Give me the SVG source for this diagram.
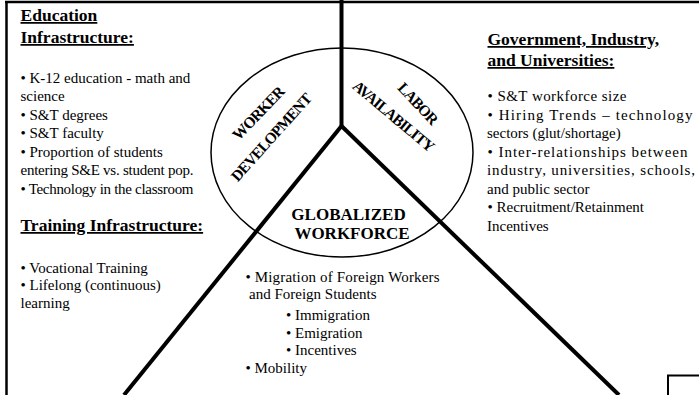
<svg xmlns="http://www.w3.org/2000/svg" width="699" height="395" viewBox="0 0 699 395">
  <style>
    .t { font-family: "Liberation Serif", "Times New Roman", serif; font-size: 15px; fill: #000; }
    .h { font-family: "Liberation Serif", "Times New Roman", serif; font-size: 17.5px; font-weight: bold; fill: #000; text-decoration: underline; }
    .lbl { font-family: "Liberation Serif", "Times New Roman", serif; font-weight: bold; fill: #000; }
    .rot { font-size: 15.5px; letter-spacing: -0.9px; }
    .thick { stroke: #000; stroke-width: 4; fill: none; stroke-linecap: butt; }
    .frame { stroke: #000; stroke-width: 2.5; fill: none; }
  </style>
  <rect width="699" height="395" fill="#fff"/>

  <!-- outer frame -->
  <g id="frame">
    <line class="frame" x1="5" y1="2" x2="699" y2="2"/>
    <line class="frame" x1="6.5" y1="1" x2="6.5" y2="395"/>
    <polyline points="668,395 668,375.5 699,375.5" fill="none" stroke="#000" stroke-width="2"/>
  </g>

  <!-- central ellipse -->
  <g id="core">
    <ellipse cx="342" cy="152.5" rx="131" ry="104.5" fill="none" stroke="#000" stroke-width="1.5"/>
    <text class="lbl" font-size="17" x="348.5" y="220" text-anchor="middle">GLOBALIZED</text>
    <text class="lbl" font-size="17" x="352" y="238.5" text-anchor="middle">WORKFORCE</text>
  </g>

  <!-- dividing lines -->
  <g id="connectors">
    <line class="thick" x1="341.5" y1="0" x2="341.5" y2="127"/>
    <line class="thick" x1="341.5" y1="126" x2="124" y2="395"/>
    <line class="thick" x1="341.5" y1="126" x2="619" y2="395"/>
  </g>

  <g id="worker-development">
    <text class="lbl rot" text-anchor="middle" transform="translate(262,117) rotate(-46)">WORKER</text>
    <text class="lbl rot" text-anchor="middle" transform="translate(275,141) rotate(-48)">DEVELOPMENT</text>
  </g>

  <g id="labor-availability">
    <text class="lbl rot" text-anchor="middle" transform="translate(414,107) rotate(47)">LABOR</text>
    <text class="lbl rot" text-anchor="middle" transform="translate(390,120) rotate(40)">AVAILABILITY</text>
  </g>

  <g id="education">
    <text class="h" x="20.5" y="21">Education</text>
    <text class="h" x="20.5" y="43">Infrastructure:</text>
    <text class="t" x="20.5" y="83">• K-12 education - math and</text>
    <text class="t" x="20.5" y="101">science</text>
    <text class="t" x="20.5" y="119.5">• S&amp;T degrees</text>
    <text class="t" x="20.5" y="138">• S&amp;T faculty</text>
    <text class="t" x="20.5" y="156.5">• Proportion of students</text>
    <text class="t" x="20.5" y="175" textLength="173">entering S&amp;E vs. student pop.</text>
    <text class="t" x="20.5" y="193.5" textLength="173">• Technology in the classroom</text>
  </g>

  <g id="training">
    <text class="h" x="20.5" y="231">Training Infrastructure:</text>
    <text class="t" x="20.5" y="272.5">• Vocational Training</text>
    <text class="t" x="20.5" y="290">• Lifelong (continuous)</text>
    <text class="t" x="20.5" y="307.5">learning</text>
  </g>

  <g id="government">
    <text class="h" x="487.5" y="45">Government, Industry,</text>
    <text class="h" x="487.5" y="66">and Universities:</text>
    <text class="t" x="487.5" y="101" textLength="139">• S&amp;T workforce size</text>
    <text class="t" x="487.5" y="119.5" textLength="205">• Hiring Trends – technology</text>
    <text class="t" x="487" y="138">sectors (glut/shortage)</text>
    <text class="t" x="487.5" y="156.5" textLength="200">• Inter-relationships between</text>
    <text class="t" x="487" y="175" textLength="208">industry, universities, schools,</text>
    <text class="t" x="487" y="193.5">and public sector</text>
    <text class="t" x="487.5" y="212">• Recruitment/Retainment</text>
    <text class="t" x="487" y="230.5">Incentives</text>
  </g>

  <g id="migration">
    <text class="t" x="245.5" y="281.5" textLength="194">• Migration of Foreign Workers</text>
    <text class="t" x="249" y="299">and Foreign Students</text>
    <text class="t" x="286" y="319.5">• Immigration</text>
    <text class="t" x="286" y="337.5">• Emigration</text>
    <text class="t" x="286" y="355">• Incentives</text>
    <text class="t" x="245.5" y="373">• Mobility</text>
  </g>
</svg>
